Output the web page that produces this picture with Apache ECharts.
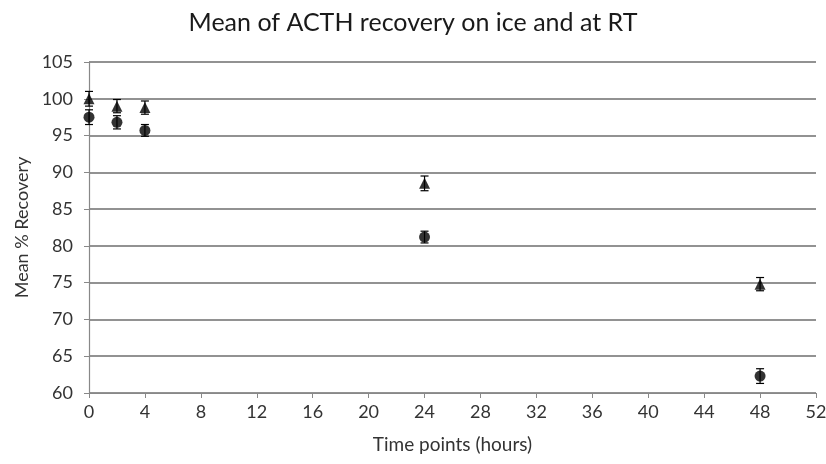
<!DOCTYPE html>
<html>
<head>
<meta charset="utf-8">
<title>Mean of ACTH recovery on ice and at RT</title>
<script src="https://cdn.jsdelivr.net/npm/echarts@6/dist/echarts.min.js"></script>
<style>
  html, body { margin: 0; padding: 0; background: #fff; }
  #chart { width: 826px; height: 464px; }
</style>
</head>
<body>
<div id="chart"></div>
<script>
  // hours after collection
  var timePoints = [0, 2, 4, 24, 48];
  // triangles: on ice
  var iceMean = [100.0, 99.0, 98.8, 88.5, 74.8];
  var iceErr = [1.0, 0.9, 0.9, 1.0, 0.9];
  // circles: room temperature
  var rtMean = [97.5, 96.8, 95.7, 81.2, 62.3];
  var rtErr = [1.0, 0.9, 0.8, 0.8, 1.0];

  var font = 'Lato, "Open Sans", sans-serif';

  function points(mean) {
    return timePoints.map(function (t, i) { return [t, mean[i]]; });
  }
  function bars(mean, err) {
    return timePoints.map(function (t, i) { return [t, mean[i] - err[i], mean[i] + err[i]]; });
  }

  function errorBar(params, api) {
    var lo = api.coord([api.value(0), api.value(1)]);
    var hi = api.coord([api.value(0), api.value(2)]);
    var w = 4;
    var style = { stroke: '#000', lineWidth: 1.2 };
    return {
      type: 'group',
      children: [
        { type: 'line', shape: { x1: lo[0], y1: lo[1], x2: hi[0], y2: hi[1] }, style: style },
        { type: 'line', shape: { x1: lo[0] - w, y1: lo[1], x2: lo[0] + w, y2: lo[1] }, style: style },
        { type: 'line', shape: { x1: hi[0] - w, y1: hi[1], x2: hi[0] + w, y2: hi[1] }, style: style }
      ]
    };
  }

  var chart = echarts.init(document.getElementById('chart'));
  chart.setOption({
    animation: false,
    title: {
      text: 'Mean of ACTH recovery on ice and at RT',
      left: 'center',
      top: 5,
      textStyle: { fontFamily: font, fontSize: 25, fontWeight: 'normal', color: '#1a1a1a' }
    },
    grid: { left: 89, right: 10, top: 62, bottom: 71, outerBoundsMode: 'none' },
    xAxis: {
      type: 'value',
      min: 0,
      max: 52,
      interval: 4,
      name: 'Time points (hours)',
      nameLocation: 'middle',
      nameGap: 42,
      nameTextStyle: { fontFamily: font, fontSize: 19, color: '#333' },
      axisLine: { lineStyle: { color: '#888', width: 1.2 } },
      axisTick: { show: true, length: 5, lineStyle: { color: '#888' } },
      axisLabel: { fontFamily: font, fontSize: 18, color: '#333', margin: 10 },
      splitLine: { show: false }
    },
    yAxis: {
      type: 'value',
      min: 60,
      max: 105,
      interval: 5,
      name: 'Mean % Recovery',
      nameLocation: 'middle',
      nameGap: 58,
      nameRotate: 90,
      nameTextStyle: { fontFamily: font, fontSize: 18, color: '#333' },
      axisLine: { show: true, lineStyle: { color: '#888', width: 1.2 } },
      axisTick: { show: true, length: 5, lineStyle: { color: '#888' } },
      axisLabel: { fontFamily: font, fontSize: 18, color: '#333', margin: 16 },
      splitLine: { show: true, lineStyle: { color: '#6e6e6e', width: 1.5 } }
    },
    series: [
      {
        name: 'ice error',
        type: 'custom',
        renderItem: errorBar,
        data: bars(iceMean, iceErr),
        z: 3
      },
      {
        name: 'RT error',
        type: 'custom',
        renderItem: errorBar,
        data: bars(rtMean, rtErr),
        z: 3
      },
      {
        name: 'On ice',
        type: 'scatter',
        symbol: 'triangle',
        symbolSize: 11,
        itemStyle: { color: '#000' },
        data: points(iceMean),
        z: 4
      },
      {
        name: 'RT',
        type: 'scatter',
        symbol: 'circle',
        symbolSize: 11,
        itemStyle: { color: '#000' },
        data: points(rtMean),
        z: 4
      }
    ]
  });
</script>
</body>
</html>
